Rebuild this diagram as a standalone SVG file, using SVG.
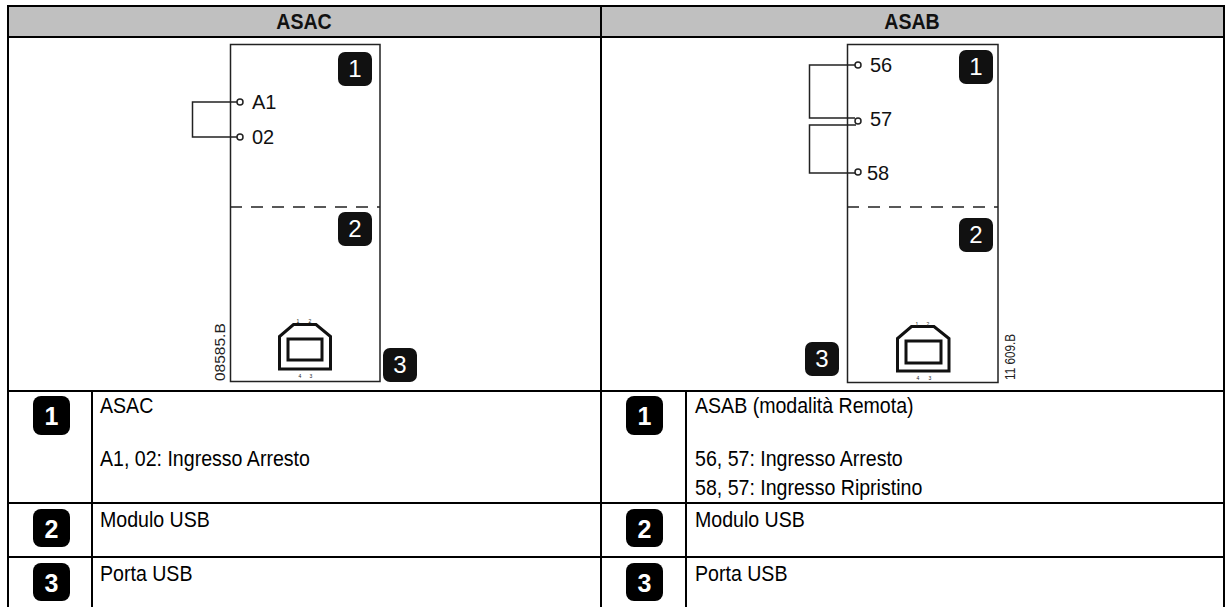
<svg xmlns="http://www.w3.org/2000/svg" width="1227" height="607" viewBox="0 0 1227 607">
<style>
.t{font-family:"Liberation Sans",Arial,sans-serif;font-size:22.5px;fill:#000}
.h{font-family:"Liberation Sans",Arial,sans-serif;font-size:22.5px;font-weight:bold;fill:#111;text-anchor:middle}
.l{font-family:"Liberation Sans",Arial,sans-serif;font-size:20px;fill:#111}
.n{font-family:"Liberation Sans",Arial,sans-serif;font-size:5px;fill:#222;text-anchor:middle}
.b{fill:#111}
.bd{font-family:"Liberation Sans",Arial,sans-serif;font-size:24px;fill:#fff;text-anchor:middle}
.bt{font-family:"Liberation Sans",Arial,sans-serif;font-size:25px;font-weight:bold;fill:#fff;text-anchor:middle}
.w{fill:none;stroke:#222;stroke-width:1.5}
.box{fill:#fff;stroke:#222;stroke-width:1.5}
.d{fill:none;stroke:#222;stroke-width:1.5;stroke-dasharray:12 9}
.c{fill:#fff;stroke:#222;stroke-width:1.5}
.g{fill:none;stroke:#111;stroke-width:3}
.r{fill:#000}
</style>
<g id="table">
<rect x="7" y="5" width="1218" height="33" fill="#c0c0c0"/>
<rect class="r" x="7" y="5" width="1218" height="2"/>
<rect class="r" x="7" y="36" width="1218" height="2"/>
<rect class="r" x="7" y="390" width="1218" height="2"/>
<rect class="r" x="7" y="502" width="1218" height="2"/>
<rect class="r" x="7" y="556" width="1218" height="2"/>
<rect class="r" x="7" y="5" width="2" height="602"/>
<rect class="r" x="600" y="5" width="2" height="602"/>
<rect class="r" x="1223" y="5" width="2" height="602"/>
<rect class="r" x="91" y="391" width="2" height="216"/>
<rect class="r" x="685" y="391" width="2" height="216"/>
<text class="h" transform="translate(304,29) scale(.87,1)">ASAC</text>
<text class="h" transform="translate(912,29) scale(.87,1)">ASAB</text>
</g>
<g id="asac-module">
<rect class="box" x="230.5" y="44.5" width="149.5" height="337"/>
<line class="d" x1="230" y1="207" x2="380" y2="207"/>
<g id="asac-usb">
<path class="g" d="M279.500 369V336.500L293.500 324.500H316L330.500 336.500V369Z"/>
<rect class="g" x="288" y="339" width="34" height="21"/>
<text class="n" x="298" y="323">1</text><text class="n" x="310" y="323">2</text>
<text class="n" x="300" y="378">4</text><text class="n" x="311" y="378">3</text>
</g>
<text class="l" x="252" y="109">A1</text>
<text class="l" x="252" y="144">02</text>
<text font-family="Liberation Sans, Arial, sans-serif" font-size="15.500" fill="#222" transform="translate(225,381) rotate(-90)">08585.B</text>
</g>
<g id="asac-connectors">
<path class="w" d="M237 102H192.500V137H237"/>
<circle class="c" cx="240" cy="102" r="3"/>
<circle class="c" cx="240" cy="137" r="3"/>
</g>
<g id="asab-module">
<rect class="box" x="847.500" y="44.500" width="150.500" height="338"/>
<line class="d" x1="847" y1="207" x2="998" y2="207"/>
<g id="asab-usb">
<path class="g" d="M897.500 371V338.500L911.500 326.500H934L949 338.500V371Z"/>
<rect class="g" x="906" y="341" width="35" height="22"/>
<text class="n" x="917" y="326">1</text><text class="n" x="928" y="326">2</text>
<text class="n" x="918" y="380">4</text><text class="n" x="930" y="380">3</text>
</g>
<text class="l" x="870" y="72">56</text>
<text class="l" x="870" y="126">57</text>
<text class="l" x="867" y="180">58</text>
<text font-family="Liberation Sans, Arial, sans-serif" font-size="14" fill="#222" transform="translate(1015,380) rotate(-90)" textLength="46" lengthAdjust="spacingAndGlyphs">11 609.B</text>
</g>
<g id="asab-connectors">
<path class="w" d="M855 65H809.500V118H855"/>
<path class="w" d="M856 125H809.500V173H855"/>
<circle class="c" cx="858" cy="65" r="3"/>
<circle class="c" cx="858" cy="121" r="3"/>
<circle class="c" cx="858" cy="172" r="3"/>
</g>
<g id="callout-a1"><rect class="b" x="338" y="52" width="34" height="34" rx="7"/><text class="bd" x="355" y="77">1</text></g>
<g id="callout-a2"><rect class="b" x="338" y="212" width="34" height="34" rx="7"/><text class="bd" x="355" y="237">2</text></g>
<g id="callout-a3"><rect class="b" x="383" y="348" width="34" height="34" rx="7"/><text class="bd" x="400" y="373">3</text></g>
<g id="callout-b1"><rect class="b" x="959" y="50" width="34" height="34" rx="7"/><text class="bd" x="976" y="75">1</text></g>
<g id="callout-b2"><rect class="b" x="959" y="218" width="34" height="34" rx="7"/><text class="bd" x="976" y="243">2</text></g>
<g id="callout-b3"><rect class="b" x="805" y="342" width="34" height="34" rx="7"/><text class="bd" x="822" y="367">3</text></g>
<g id="legend-a1"><rect x="33" y="396" width="37" height="39" rx="8"/><text class="bt" x="51.500" y="425">1</text>
<text class="t" transform="translate(100,413) scale(.87,1)">ASAC</text>
<text class="t" transform="translate(100,466) scale(.87,1)">A1, 02: Ingresso Arresto</text></g>
<g id="legend-a2"><rect x="33" y="509" width="37" height="38" rx="8"/><text class="bt" x="51.500" y="538">2</text>
<text class="t" transform="translate(100,527) scale(.87,1)">Modulo USB</text></g>
<g id="legend-a3"><rect x="33" y="563" width="37" height="38" rx="8"/><text class="bt" x="51.500" y="592">3</text>
<text class="t" transform="translate(100,581) scale(.87,1)">Porta USB</text></g>
<g id="legend-b1"><rect x="626" y="396" width="37" height="39" rx="8"/><text class="bt" x="644.500" y="425">1</text>
<text class="t" transform="translate(695,413) scale(.87,1)">ASAB (modalità Remota)</text>
<text class="t" transform="translate(695,466) scale(.87,1)">56, 57: Ingresso Arresto</text>
<text class="t" transform="translate(695,495) scale(.87,1)">58, 57: Ingresso Ripristino</text></g>
<g id="legend-b2"><rect x="626" y="509" width="37" height="38" rx="8"/><text class="bt" x="644.500" y="538">2</text>
<text class="t" transform="translate(695,527) scale(.87,1)">Modulo USB</text></g>
<g id="legend-b3"><rect x="626" y="563" width="37" height="38" rx="8"/><text class="bt" x="644.500" y="592">3</text>
<text class="t" transform="translate(695,581) scale(.87,1)">Porta USB</text></g>
</svg>
